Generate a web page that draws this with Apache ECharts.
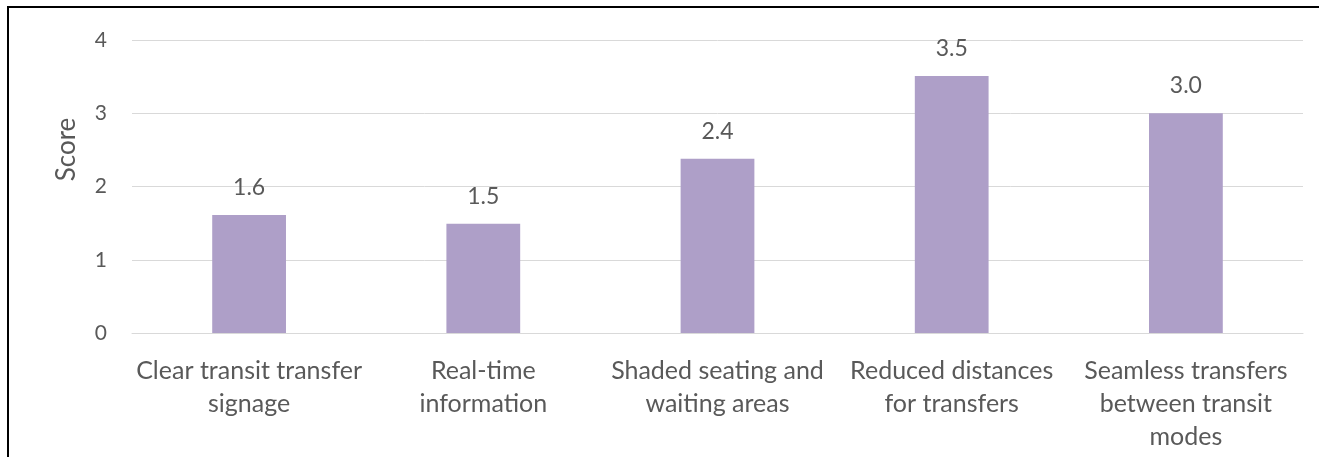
<!DOCTYPE html>
<html>
<head>
<meta charset="utf-8">
<script src="https://cdn.jsdelivr.net/npm/echarts@6/dist/echarts.min.js"></script>
<style>
html,body{margin:0;padding:0;background:#fff;}
#frame{position:absolute;left:7px;top:6px;width:1312px;height:451px;border-top:2px solid #000;border-left:2px solid #000;box-sizing:border-box;}
#chart{position:absolute;left:0;top:0;width:1319px;height:457px;}
</style>
</head>
<body>
<div id="chart"></div>
<div id="frame"></div>
<script>
const categories = [
  'Clear transit transfer\nsignage',
  'Real-time\ninformation',
  'Shaded seating and\nwaiting areas',
  'Reduced distances\nfor transfers',
  'Seamless transfers\nbetween transit\nmodes'
];
const scores = [1.61, 1.49, 2.38, 3.51, 3.0];
const yTicks = { min: 0, max: 4, interval: 1 };
const yAxisTitle = 'Score';

const FONT = 'Lato';
const TEXT = '#595959';
const chart = echarts.init(document.getElementById('chart'), null, {renderer: 'canvas'});
chart.setOption({
  animation: false,
  grid: { left: 132, right: 16, top: 40, bottom: 124, containLabel: false },
  xAxis: {
    type: 'category',
    data: categories,
    axisLine: { show: true, lineStyle: { color: '#d9d9d9', width: 1 } },
    axisTick: { show: false },
    axisLabel: { color: TEXT, fontFamily: FONT, fontSize: 25, lineHeight: 33, margin: 21, interval: 0 }
  },
  yAxis: {
    type: 'value',
    min: yTicks.min, max: yTicks.max, interval: yTicks.interval,
    name: yAxisTitle,
    nameLocation: 'middle',
    nameGap: 52,
    nameRotate: 90,
    nameTextStyle: { color: TEXT, fontFamily: FONT, fontSize: 26, padding: [0, 0, 0, 74] },
    axisLine: { show: false },
    axisTick: { show: false },
    axisLabel: { color: TEXT, fontFamily: FONT, fontSize: 21, margin: 25 },
    splitLine: { lineStyle: { color: '#d9d9d9', width: 1 } }
  },
  series: [{
    type: 'bar',
    data: scores,
    barWidth: '31.5%',
    itemStyle: { color: '#ae9fc8' },
    label: {
      show: true,
      position: 'top',
      distance: 16,
      color: TEXT,
      fontFamily: FONT,
      fontSize: 23,
      formatter: p => p.value.toFixed(1)
    }
  }]
});
</script>
</body>
</html>
